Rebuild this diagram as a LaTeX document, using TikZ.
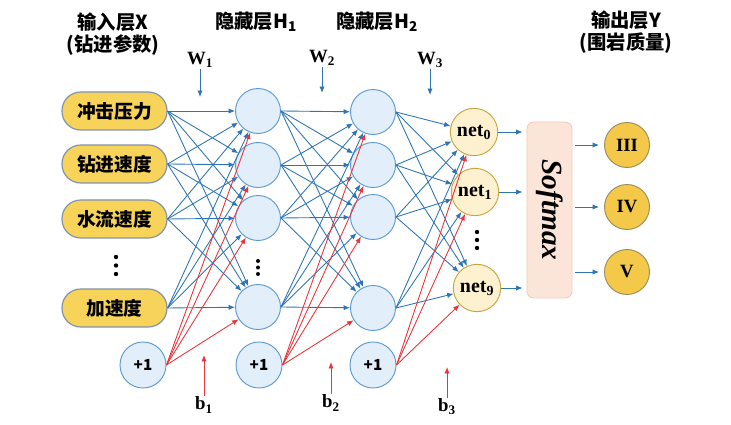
\documentclass[tikz,border=0pt]{standalone}
\usepackage{fontspec}
\setmainfont{Liberation Serif}
\newfontfamily\cjk{Noto Sans CJK SC}
\usetikzlibrary{arrows.meta}
\definecolor{lineblue}{HTML}{2E75B6}
\definecolor{linered}{HTML}{E8343A}
\definecolor{hidfill}{HTML}{E2EEF9}
\definecolor{hiddraw}{HTML}{5B9BD5}
\definecolor{inpfill}{HTML}{F7D35A}
\definecolor{inpdraw}{HTML}{7F93AD}
\definecolor{netfill}{HTML}{FDF1CF}
\definecolor{netdraw}{HTML}{C9A544}
\definecolor{outfill}{HTML}{F4C94A}
\definecolor{outdraw}{HTML}{9C8B5E}
\definecolor{smfill}{HTML}{FBE4D8}
\definecolor{smdraw}{HTML}{F2CDB8}
\tikzset{
  ttl/.style={font=\cjk\bfseries\fontsize{16.5}{19}\selectfont, align=center},
  lbl/.style={font=\bfseries\fontsize{16}{18}\selectfont, inner sep=1pt},
  inp/.style={draw=inpdraw, fill=inpfill, line width=1pt, rounded corners=5.6mm,
    minimum width=31.5mm, minimum height=11.4mm, font=\cjk\bfseries\fontsize{16}{18}\selectfont},
  hid/.style={circle, draw=hiddraw, fill=hidfill, line width=0.8pt, minimum size=13.5mm, inner sep=0pt},
  bias/.style={hid, minimum size=13.8mm, font=\cjk\bfseries\fontsize{13}{15}\selectfont},
  netn/.style={circle, draw=netdraw, fill=netfill, line width=0.8pt, minimum size=14.2mm,
    inner sep=0pt, font=\bfseries\fontsize{17}{19}\selectfont},
  outn/.style={circle, draw=outdraw, fill=outfill, line width=0.8pt, minimum size=13.5mm,
    inner sep=0pt, font=\bfseries\fontsize{16}{18}\selectfont},
  smbox/.style={draw=smdraw, fill=smfill, line width=0.8pt, rounded corners=2mm,
    minimum width=13.5mm, minimum height=52.8mm, font=\bfseries\itshape\fontsize{25}{27}\selectfont},
  bl/.style={draw=lineblue, line width=0.75pt, -{Latex[length=5.5pt,width=4.5pt]}},
  rd/.style={draw=linered, line width=0.75pt, -{Latex[length=5.5pt,width=4.5pt]}}
}
\begin{document}
\begin{tikzpicture}[x=0.3mm,y=-0.3mm]
    \useasboundingbox (0,0) rectangle (731,425);
    \node[ttl] (tx) at (113,34) {输入层X\\(钻进参数)};
    \node[ttl] (th1) at (256,22) {隐藏层H\textsubscript{1}};
    \node[ttl] (th2) at (377,22) {隐藏层H\textsubscript{2}};
    \node[ttl] (ty) at (626,32) {输出层Y\\(围岩质量)};
    \node[lbl] (w1) at (200,60) {W\textsubscript{1}};
    \node[lbl] (w2) at (322,58) {W\textsubscript{2}};
    \node[lbl] (w3) at (430,60) {W\textsubscript{3}};
    \coordinate (w1e) at (200,97);
    \coordinate (w2e) at (322,93);
    \coordinate (w3e) at (430,95);
    \node[lbl] (lb1) at (204,405) {b\textsubscript{1}};
    \node[lbl] (lb2) at (331,403) {b\textsubscript{2}};
    \node[lbl] (lb3) at (447,407) {b\textsubscript{3}};
    \coordinate (b1e) at (204,355);
    \coordinate (b2e) at (331,362);
    \coordinate (b3e) at (447,367);
    \node[inp] (in1) at (114.5,111) {冲击压力};
    \node[inp] (in2) at (114.5,164) {钻进速度};
    \node[inp] (in3) at (114.5,219) {水流速度};
    \node[inp] (in4) at (114.5,308) {加速度};
    \node[hid] (h11) at (258,111) {};
    \node[hid] (h12) at (258,165) {};
    \node[hid] (h13) at (258,218) {};
    \node[hid] (h14) at (258,307) {};
    \node[hid] (h21) at (373,112) {};
    \node[hid] (h22) at (373,165) {};
    \node[hid] (h23) at (373,217) {};
    \node[hid] (h24) at (373,308) {};
    \node[bias] (b1) at (143,365) {+1};
    \node[bias] (b2) at (259,365) {+1};
    \node[bias] (b3) at (373,365) {+1};
    \node[netn] (o0) at (474,132) {net\textsubscript{0}};
    \node[netn] (o1) at (475,192) {net\textsubscript{1}};
    \node[netn] (o9) at (477,288) {net\textsubscript{9}};
    \node[smbox] (sm) at (549.5,210) {\rotatebox{-90}{Softmax}};
    \node[outn] (y1) at (627,145) {III};
    \node[outn] (y2) at (627,207) {IV};
    \node[outn] (y3) at (627,272) {V};
    \fill (116,257) circle (0.65mm) (116,265.5) circle (0.65mm) (116,274) circle (0.65mm);
    \fill (258,261) circle (0.6mm) (258,267.5) circle (0.6mm) (258,274) circle (0.6mm);
    \fill (477,232) circle (0.65mm) (477,240) circle (0.65mm) (477,248) circle (0.65mm);
    \draw (in1.east) edge[bl] (h11) edge[bl] (h12) edge[bl] (h13) edge[bl] (h14);
    \draw (in2.east) edge[bl] (h11) edge[bl] (h12) edge[bl] (h13) edge[bl] (h14);
    \draw (in3.east) edge[bl] (h11) edge[bl] (h12) edge[bl] (h13) edge[bl] (h14);
    \draw (in4.east) edge[bl] (h11) edge[bl] (h12) edge[bl] (h13) edge[bl] (h14);
    \draw (h11.east) edge[bl] (h21) edge[bl] (h22) edge[bl] (h23) edge[bl] (h24);
    \draw (h12.east) edge[bl] (h21) edge[bl] (h22) edge[bl] (h23) edge[bl] (h24);
    \draw (h13.east) edge[bl] (h21) edge[bl] (h22) edge[bl] (h23) edge[bl] (h24);
    \draw (h14.east) edge[bl] (h21) edge[bl] (h22) edge[bl] (h23) edge[bl] (h24);
    \draw (h21.east) edge[bl] (o0) edge[bl] (o1) edge[bl] (o9);
    \draw (h22.east) edge[bl] (o0) edge[bl] (o1) edge[bl] (o9);
    \draw (h23.east) edge[bl] (o0) edge[bl] (o1) edge[bl] (o9);
    \draw (h24.east) edge[bl] (o0) edge[bl] (o1) edge[bl] (o9);
    \draw (b1.east) edge[rd] (h11) edge[rd] (h12) edge[rd] (h13) edge[rd] (h14);
    \draw (b2.east) edge[rd] (h21) edge[rd] (h22) edge[rd] (h23) edge[rd] (h24);
    \draw (b3.east) edge[rd] (o0) edge[rd] (o1) edge[rd] (o9);
    \draw[bl, shorten >=1.2mm] (o0) -- (o0 -| sm.west);
    \draw[bl, shorten >=1.2mm] (o1) -- (o1 -| sm.west);
    \draw[bl, shorten >=1.2mm] (o9) -- (o9 -| sm.west);
    \draw[bl, shorten <=0.9mm, shorten >=1.5mm] (sm.east |- y1) -- (y1);
    \draw[bl, shorten <=0.9mm, shorten >=1.5mm] (sm.east |- y2) -- (y2);
    \draw[bl, shorten <=0.9mm, shorten >=1.5mm] (sm.east |- y3) -- (y3);
    \draw[bl] (w1) -- (w1e);
    \draw[bl] (w2) -- (w2e);
    \draw[bl] (w3) -- (w3e);
    \draw[rd] (lb1) -- (b1e);
    \draw[rd] (lb2) -- (b2e);
    \draw[rd] (lb3) -- (b3e);
\end{tikzpicture}
\end{document}
